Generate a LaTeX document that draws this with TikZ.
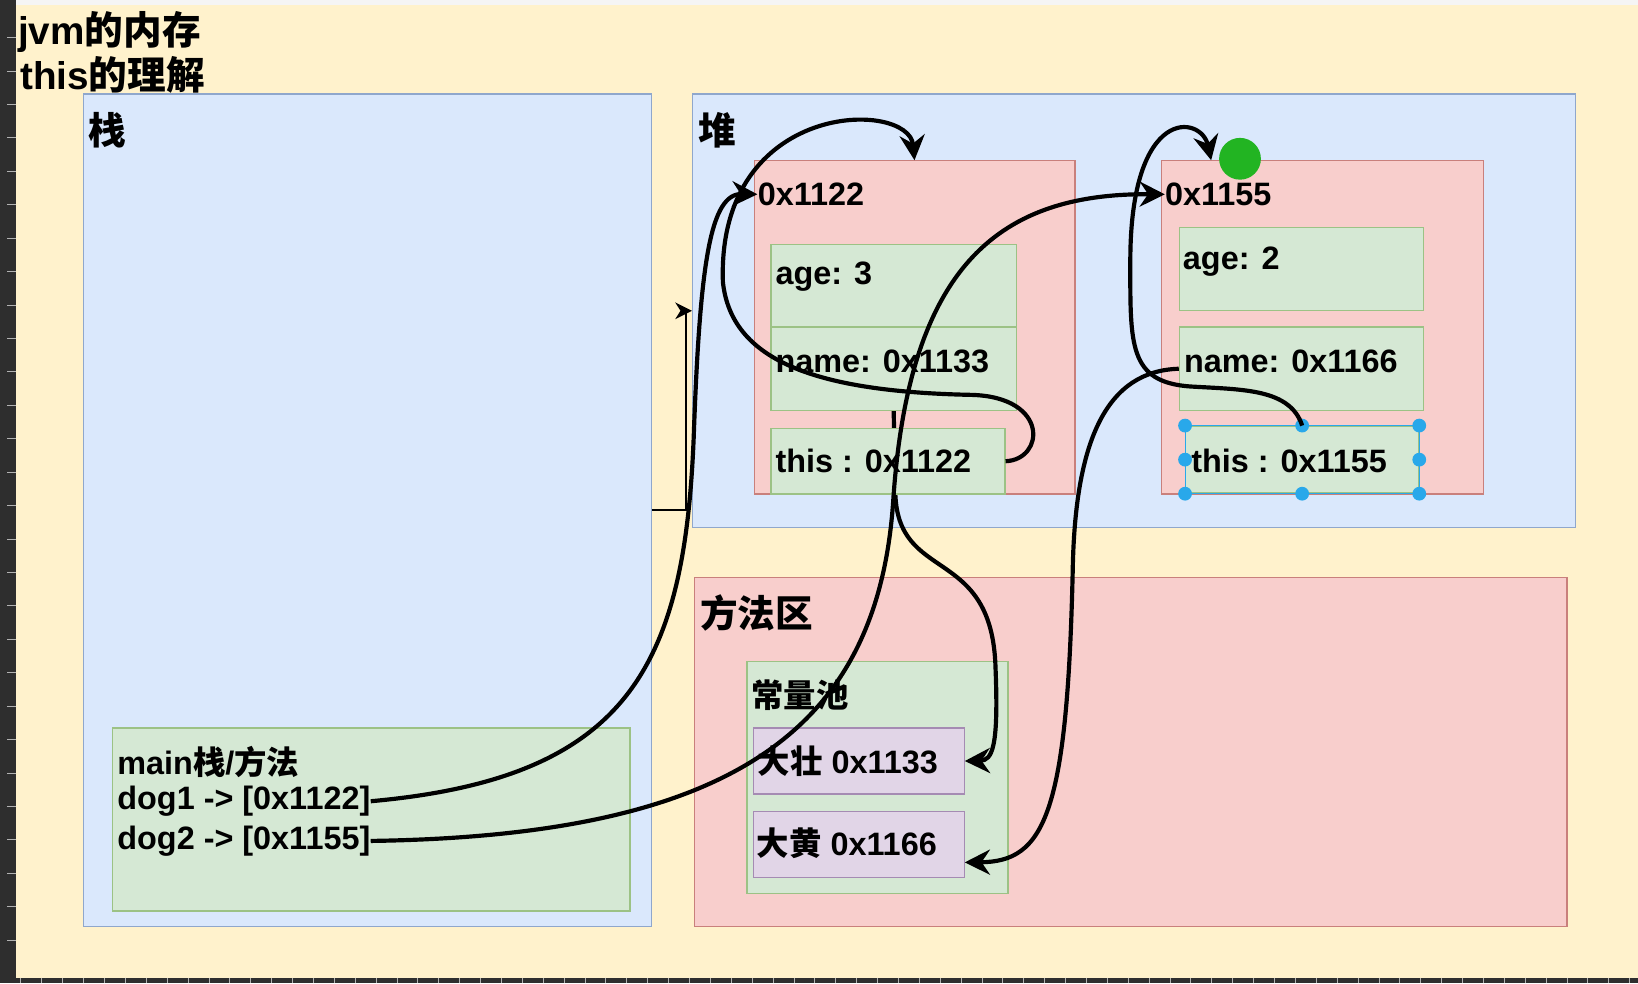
\documentclass[tikz,border=0pt]{standalone}
\usepackage{fontspec}
\setmainfont{Liberation Sans}
\newfontfamily\cjk{Noto Sans CJK SC}
\newcommand\zh[1]{{\cjk #1}}
\usetikzlibrary{arrows.meta,fit}

\definecolor{bgyellow}{HTML}{FFF2CC}
\definecolor{blueF}{HTML}{DAE8FC}
\definecolor{blueD}{HTML}{8FA7CC}
\definecolor{pinkF}{HTML}{F8CECC}
\definecolor{pinkD}{HTML}{C9807C}
\definecolor{greenF}{HTML}{D5E8D4}
\definecolor{greenD}{HTML}{9CC285}
\definecolor{purpleF}{HTML}{E1D5E7}
\definecolor{purpleD}{HTML}{A58BB3}
\definecolor{selblue}{HTML}{29A8EA}
\definecolor{hovergreen}{HTML}{22B422}
\definecolor{darkstrip}{HTML}{2E2E2E}

\begin{document}
\begin{tikzpicture}[x=0.5pt,y=-0.5pt,
  box/.style={draw, line width=0.6pt, inner sep=0pt},
  bluebox/.style={box, fill=blueF, draw=blueD},
  pinkbox/.style={box, fill=pinkF, draw=pinkD},
  greenbox/.style={box, fill=greenF, draw=greenD},
  purplebox/.style={box, fill=purpleF, draw=purpleD},
  txt/.style={anchor=west, inner sep=0pt, font=\fontsize{15.5}{18}\selectfont\bfseries},
  bigtxt/.style={txt, font=\fontsize{18}{21}\selectfont\bfseries},
  titletxt/.style={txt, font=\fontsize{18.5}{22}\selectfont\bfseries},
  ref/.style={line width=2pt, -{Stealth[length=12pt,width=12pt,inset=4pt]}},
  thinref/.style={line width=0.8pt, -{Stealth[length=8pt,width=8pt,inset=2.5pt]}},
]
\useasboundingbox (0,0) rectangle (1568,941);

% screen around the page
\fill[gray!8] (0,0) rectangle (1568,5);
\fill[bgyellow] (15,5) rectangle (1568,936);
\fill[darkstrip] (0,0) rectangle (15,941);
\fill[darkstrip] (0,936) rectangle (1568,941);
\foreach \ty in {36,68,...,930} \draw[gray!60, line width=0.4pt] (7,\ty) -- (15,\ty);
\foreach \tx in {20,40,...,1560} \draw[gray!60, line width=0.4pt] (\tx,936) -- (\tx,941);

% title
\node[titletxt] (title1) at (17,31) {jvm\zh{的内存}};
\node[titletxt] (title2) at (19,72) {this\zh{的理解}};

% stack
\node[bluebox, fit={(80,90)(624,887)}] (stack) {};
\node[bigtxt] (stacklab) at (84,125) {\zh{栈}};
\node[greenbox, fit={(108,697)(603,872)}] (mainframe) {};
\node[txt] (mainlab) at (112,729) {main\zh{栈}/\zh{方法}};
\node[txt] (dog1) at (112,767) {dog1 -> [0x1122]};
\node[txt] (dog2) at (112,805) {dog2 -> [0x1155]};

% heap
\node[bluebox, fit={(663,90)(1508,505)}] (heap) {};
\node[bigtxt] (heaplab) at (668,125) {\zh{堆}};

% method area
\node[pinkbox, fit={(665,553)(1500,887)}] (method) {};
\node[bigtxt] (methodlab) at (670,587) {\zh{方法区}};
\node[greenbox, fit={(715,633)(965,855)}] (pool) {};
\node[txt] (poollab) at (719,665) {\zh{常量池}};
\node[purplebox, fit={(721,697)(923,760)}] (dz) {};
\node[txt] (dzlab) at (725,729) {\zh{大壮} 0x1133};
\node[purplebox, fit={(721,777)(923,840)}] (dh) {};
\node[txt] (dhlab) at (724,807) {\zh{大黄} 0x1166};

% first dog object
\node[pinkbox, fit={(722,154)(1029,473)}] (dog1obj) {};
\node[txt] (addr1) at (725,186) {0x1122};
\node[greenbox, fit={(738,234)(973,313)}] (age1) {};
\node[txt] (age1lab) at (742,265) {age: 3};
\node[greenbox, fit={(738,313)(973,393)}] (name1) {};
\node[txt] (name1lab) at (742,346) {name: 0x1133};
% name -> constant pool, runs behind the this box
\draw[ref] (name1.south) -- (857,470) .. controls (858,560) and (950,520) .. (953,640)
  .. controls (956,715) and (950,728) .. (dz.east);
\node[greenbox, fit={(738,410)(962,473)}] (this1) {};
\node[txt] (this1lab) at (742,441) {this : 0x1122};

% second dog object
\node[pinkbox, fit={(1112,154)(1420,473)}] (dog2obj) {};
\node[txt] (addr2) at (1115,186) {0x1155};
\node[greenbox, fit={(1129,218)(1363,297)}] (age2) {};
\node[txt] (age2lab) at (1132,250) {age: 2};
\node[greenbox, fit={(1129,313)(1363,393)}] (name2) {};
\node[txt] (name2lab) at (1133,346) {name: 0x1166};
\node[greenbox, fit={(1135,408)(1358,472)}] (this2) {};
\node[txt] (this2lab) at (1140,441) {this : 0x1155};

% selection handles
\draw[selblue, line width=0.5pt] (this2.north west) rectangle (this2.south east);
\foreach \p in {north west,north,north east,west,east,south west,south,south east}
  \fill[selblue] (this2.\p) circle (3.3pt);
\fill[hovergreen] (1187,152) circle (10pt);

% references
\draw[thinref] (stack.east) -- ++(32,0) |- (heap.west);
\draw[ref] (dog1.east) .. controls (600,745) and (655,640) .. (664,420)
  .. controls (670,250) and (680,185) .. (addr1.west);
\draw[ref] (dog2.east) .. controls (700,800) and (840,700) .. (855,480)
  .. controls (870,250) and (960,185) .. (addr2.west);
\draw[ref] (this1.east) .. controls (1000,440) and (1005,380) .. (930,378)
  .. controls (780,375) and (700,345) .. (692,270)
  .. controls (686,95) and (870,95) .. ([xshift=77pt]dog1obj.north west);
\draw[ref] (this2.north) .. controls (1235,372) and (1190,373) .. (1140,370)
  .. controls (1080,366) and (1082,330) .. (1082,250)
  .. controls (1082,100) and (1150,110) .. ([xshift=24pt]dog2obj.north west);
\draw[ref] (name2.west) .. controls (1060,355) and (1030,420) .. (1027,540)
  .. controls (1022,780) and (1000,825) .. ([yshift=-8.5pt]dh.east);
\end{tikzpicture}
\end{document}
